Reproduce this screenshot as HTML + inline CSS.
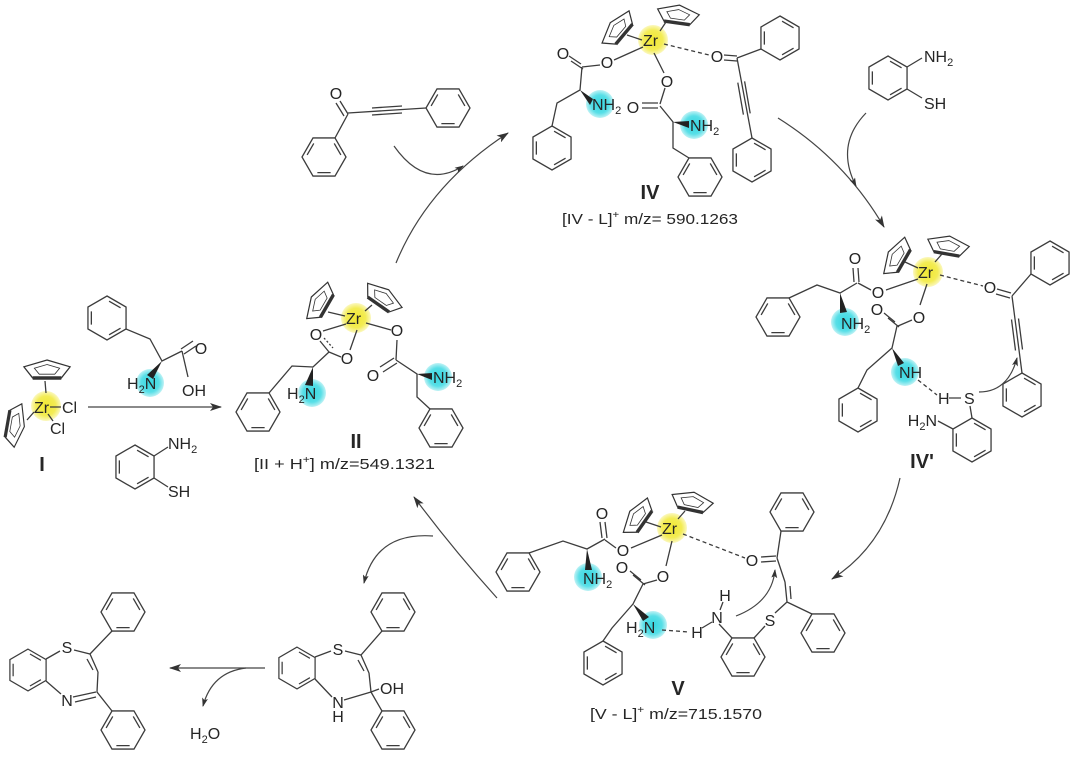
<!DOCTYPE html>
<html><head><meta charset="utf-8"><style>
html,body{margin:0;padding:0;background:#fff;}
svg{display:block}
text{font-family:"Liberation Sans",Arial,sans-serif;fill:#262626}
</style></head><body>
<svg width="1080" height="759" viewBox="0 0 1080 759" xmlns="http://www.w3.org/2000/svg">
<defs>
<radialGradient id="yg"><stop offset="0" stop-color="#f1e832"/><stop offset="0.65" stop-color="#f3ec55"/><stop offset="1" stop-color="#fbf8c0"/></radialGradient>
<radialGradient id="cg"><stop offset="0" stop-color="#35d6e0"/><stop offset="0.65" stop-color="#58dfe7"/><stop offset="1" stop-color="#bff2f5"/></radialGradient>
<g id="bz" fill="none" stroke="#3c3c3c" stroke-width="1.3">
<polygon points="0,-22 19.05,-11 19.05,11 0,22 -19.05,11 -19.05,-11"/>
<path d="M2.07,-16.87L13.58,-10.23M13.58,10.23L2.07,16.87M-15.65,6.64L-15.65,-6.64"/>
</g>
<g id="cp" fill="none" stroke="#333" stroke-width="1.2">
<polygon points="0,-10 21,-3.2 13,8 -13,8 -21,-3.2"/>
<line x1="-13" y1="8" x2="13" y2="8" stroke-width="3.4"/>
<polygon points="0,-5.5 11.5,-1.8 7,4.2 -7,4.2 -11.5,-1.8" stroke-width="0.8"/>
</g>
<marker id="ah" viewBox="0 0 12 8" refX="11" refY="4" markerWidth="12" markerHeight="8" orient="auto" markerUnits="userSpaceOnUse"><path d="M0,0L12,4L0,8L3,4z" fill="#333"/></marker>
<marker id="as" viewBox="0 0 9 6" refX="8" refY="3" markerWidth="9" markerHeight="6" orient="auto" markerUnits="userSpaceOnUse"><path d="M0,0L9,3L0,6L2,3z" fill="#333"/></marker>
</defs>

<!-- highlight circles -->
<g>
<circle cx="46" cy="406" r="15" fill="url(#yg)"/>
<circle cx="356" cy="318" r="15" fill="url(#yg)"/>
<circle cx="653" cy="40" r="15" fill="url(#yg)"/>
<circle cx="928" cy="272" r="15" fill="url(#yg)"/>
<circle cx="672" cy="528" r="15" fill="url(#yg)"/>
<circle cx="150" cy="383" r="14" fill="url(#cg)"/>
<circle cx="312" cy="393" r="14" fill="url(#cg)"/>
<circle cx="438" cy="377" r="14" fill="url(#cg)"/>
<circle cx="600" cy="104" r="14" fill="url(#cg)"/>
<circle cx="694" cy="125" r="14" fill="url(#cg)"/>
<circle cx="845" cy="322" r="14" fill="url(#cg)"/>
<circle cx="905" cy="372" r="14" fill="url(#cg)"/>
<circle cx="588" cy="577" r="14" fill="url(#cg)"/>
<circle cx="653" cy="625" r="14" fill="url(#cg)"/>
</g>

<!-- benzene rings -->
<use href="#bz" transform="translate(107,318)"/>
<use href="#bz" transform="translate(135,467)"/>
<use href="#bz" transform="translate(258,412) rotate(30)"/>
<use href="#bz" transform="translate(441,428) rotate(30)"/>
<use href="#bz" transform="translate(324,157) rotate(30)"/>
<use href="#bz" transform="translate(448,108) rotate(30)"/>
<use href="#bz" transform="translate(552,148)"/>
<use href="#bz" transform="translate(700,177) rotate(30)"/>
<use href="#bz" transform="translate(780,38)"/>
<use href="#bz" transform="translate(752,160)"/>
<use href="#bz" transform="translate(888,78)"/>
<use href="#bz" transform="translate(778,317) rotate(30)"/>
<use href="#bz" transform="translate(858,410)"/>
<use href="#bz" transform="translate(1050,263)"/>
<use href="#bz" transform="translate(1022,395)"/>
<use href="#bz" transform="translate(972,440)"/>
<use href="#bz" transform="translate(518,572) rotate(30)"/>
<use href="#bz" transform="translate(603,663)"/>
<use href="#bz" transform="translate(743,657) rotate(30)"/>
<use href="#bz" transform="translate(792,512) rotate(30)"/>
<use href="#bz" transform="translate(823,633) rotate(30)"/>
<use href="#bz" transform="translate(297,668) scale(0.95)"/>
<use href="#bz" transform="translate(393,612) rotate(30)"/>
<use href="#bz" transform="translate(393,730) rotate(30)"/>
<use href="#bz" transform="translate(28,670) scale(0.95)"/>
<use href="#bz" transform="translate(123,612) rotate(30)"/>
<use href="#bz" transform="translate(123,730) rotate(30)"/>

<!-- Cp rings -->
<use href="#cp" transform="translate(47,370) scale(1.1,1)"/>
<use href="#cp" transform="translate(15,425) rotate(100) scale(1.05,0.95)"/>
<use href="#cp" transform="translate(320,302) rotate(-60)"/>
<use href="#cp" transform="translate(383,298) rotate(35)"/>
<use href="#cp" transform="translate(618,29) rotate(-50)"/>
<use href="#cp" transform="translate(678,15) rotate(8)"/>
<use href="#cp" transform="translate(897,257) rotate(-60)"/>
<use href="#cp" transform="translate(948,246) rotate(10)"/>
<use href="#cp" transform="translate(638,517) rotate(-55)"/>
<use href="#cp" transform="translate(692,502) rotate(12)"/>

<!-- bonds -->
<g fill="none" stroke="#3c3c3c" stroke-width="1.3">
<!-- I -->
<path d="M45,381L46,393M27,420L34,412M50,407L61,407M48,414L53,421"/>
<!-- Phe reagent -->
<path d="M126,329L150,339L162,361L182,351M181,349L193,341M184,354L196,346M182,351L188,377"/>
<!-- ATP reagent -->
<path d="M154,456L168,447M154,478L168,487"/>
<!-- II -->
<path d="M328,312L345,316M372,305L365,311M346,324L323,331M366,323L391,330M357,330L350,350M320,341L329,352M329,352L341,357M329,352L313,367L292,366L269,393"/>
<path d="M324,338L333,348" stroke-dasharray="2,2"/>
<path d="M397,340L396,360M394,358L380,367M397,363L383,372M396,360L417,374L417,397L430,409"/>
<!-- ynone -->
<path d="M335,138L348,114M348,114L340,101M344,116L336,103M348,113L426,108M372,108L402,106M372,115L402,113"/>
<!-- IV -->
<path d="M627,35L642,40M666,22L660,31M643,47L614,60M600,65L582,67M581,64L569,56M583,69L571,61M582,67L580,90L557,103L552,126"/>
<path d="M654,53L664,73M665,88L660,104M658,103L642,103M658,108L642,108M660,106L673,122L673,148L689,158"/>
<path d="M664,44L709,55" stroke-dasharray="4,3"/>
<path d="M724,55L737,56M724,60L737,61M737,58L761,49M737,58L752,138M744.6,81.4L750.2,113.4M737.8,82.6L743.4,114.6"/>
<!-- ATP top right -->
<path d="M907,67L922,58M907,89L922,98"/>
<!-- IV' -->
<path d="M905,262L918,268M942,254L935,262M918,279L886,290M871,290L858,283M854,282L853,268M859,282L858,268M857,283L840,293L817,285L789,298"/>
<path d="M927,284L920,305M912,320L898,326M895,322L884,313M899,327L888,318M897,326L892,348L867,370L858,388"/>
<path d="M940,275L983,286M918,380L937,395" stroke-dasharray="4,3"/>
<path d="M949,398L961,398M970,406L972,418M953,429L938,421"/>
<path d="M997,289L1011,293M996,294L1010,298M1012,296L1031,274M1012,296L1022,373M1018.5,318.5L1022.5,349.5M1011.5,319.5L1015.5,350.5"/>
<!-- V -->
<path d="M646,522L661,527M685,511L678,519M662,535L631,548M616,548L605,540M602,538L600,522M607,538L605,522M605,539L587,549L563,541L529,553"/>
<path d="M672,541L666,566M657,580L643,584M641,580L630,571M645,585L633,575M643,584L633,604M633,604L612,628L603,641"/>
<path d="M683,534L745,558M662,630L689,632" stroke-dasharray="4,3"/>
<path d="M702,628L712,622M720,610L723,602M719,624L732,638M754,638L765,626M775,613L787,602M787,602L785,582M791,599L790,586M785,582L777,558M776,556L761,557M776,561L761,562M777,558L781,531M787,602L812,614"/>
<!-- bottom right molecule -->
<path d="M315,657L331,651M345,651L361,655L382,631M361,655L369,673M358,660L364,671M369,673L371,692L382,711M315,679L332,697M344,700L371,692M371,692L379,689"/>
<!-- bottom left molecule -->
<path d="M46,659L60,651M74,650L90,654L112,631M90,654L98,672M87,659L93,670M98,672L97,692L112,711M46,681L61,694M73,697L96,692M75,702L96,697"/>
</g>

<!-- wedges -->
<g fill="#222">
<polygon points="162,361 147,375 153,379"/>
<polygon points="313,367 305,385 313,386"/>
<polygon points="417,374 432,373 432,380"/>
<polygon points="580,90 593,99 590,105"/>
<polygon points="673,122 689,121 689,128"/>
<polygon points="840,293 840,313 847,312"/>
<polygon points="892,348 898,366 904,363"/>
<polygon points="587,549 585,570 592,570"/>
<polygon points="633,604 643,621 649,617"/>
</g>

<!-- arrows -->
<g fill="none" stroke="#444" stroke-width="1.2">
<line x1="88" y1="407" x2="221" y2="407" marker-end="url(#ah)"/>
<path d="M396,263 Q428,185 508,133" marker-end="url(#ah)"/>
<path d="M394,146 Q425,190 463,166" marker-end="url(#as)"/>
<path d="M778,118 Q845,160 884,227" marker-end="url(#ah)"/>
<path d="M866,113 Q835,145 856,186" marker-end="url(#as)"/>
<path d="M979,392 Q1008,392 1017,358" marker-end="url(#as)"/>
<path d="M900,478 Q885,545 832,579" marker-end="url(#ah)"/>
<path d="M736,616 Q772,602 775,570" marker-end="url(#as)"/>
<path d="M497,598 Q452,548 414,497" marker-end="url(#ah)"/>
<path d="M433,536 Q376,532 364,583" marker-end="url(#as)"/>
<line x1="265" y1="668" x2="170" y2="668" marker-end="url(#ah)"/>
<path d="M246,668 Q212,672 203,706" marker-end="url(#as)"/>
</g>

<!-- atom labels -->
<g font-size="16">
<text x="34" y="413">Zr</text>
<text x="62" y="413">Cl</text>
<text x="50" y="434">Cl</text>
<text x="201" y="354" text-anchor="middle">O</text>
<text x="182" y="396">OH</text>
<text x="127" y="389">H<tspan font-size="11" dy="4">2</tspan><tspan dy="-4">N</tspan></text>
<text x="168" y="449">NH<tspan font-size="11" dy="4">2</tspan></text>
<text x="168" y="497">SH</text>
<text x="346" y="324">Zr</text>
<text x="316" y="340" text-anchor="middle">O</text>
<text x="397" y="336" text-anchor="middle">O</text>
<text x="347" y="364" text-anchor="middle">O</text>
<text x="373" y="381" text-anchor="middle">O</text>
<text x="287" y="399">H<tspan font-size="11" dy="4">2</tspan><tspan dy="-4">N</tspan></text>
<text x="433" y="383">NH<tspan font-size="11" dy="4">2</tspan></text>
<text x="336" y="99" text-anchor="middle">O</text>
<text x="643" y="46">Zr</text>
<text x="607" y="68" text-anchor="middle">O</text>
<text x="563" y="59" text-anchor="middle">O</text>
<text x="592" y="110">NH<tspan font-size="11" dy="4">2</tspan></text>
<text x="667" y="87" text-anchor="middle">O</text>
<text x="633" y="113" text-anchor="middle">O</text>
<text x="690" y="131">NH<tspan font-size="11" dy="4">2</tspan></text>
<text x="717" y="62" text-anchor="middle">O</text>
<text x="924" y="62">NH<tspan font-size="11" dy="4">2</tspan></text>
<text x="924" y="109">SH</text>
<text x="918" y="278">Zr</text>
<text x="878" y="298" text-anchor="middle">O</text>
<text x="855" y="264" text-anchor="middle">O</text>
<text x="841" y="329">NH<tspan font-size="11" dy="4">2</tspan></text>
<text x="919" y="323" text-anchor="middle">O</text>
<text x="877" y="315" text-anchor="middle">O</text>
<text x="899" y="378">NH</text>
<text x="938" y="404">H</text>
<text x="964" y="404">S</text>
<text x="937" y="426" text-anchor="end">H<tspan font-size="11" dy="4">2</tspan><tspan dy="-4">N</tspan></text>
<text x="990" y="293" text-anchor="middle">O</text>
<text x="662" y="534">Zr</text>
<text x="623" y="556" text-anchor="middle">O</text>
<text x="602" y="519" text-anchor="middle">O</text>
<text x="583" y="584">NH<tspan font-size="11" dy="4">2</tspan></text>
<text x="663" y="582" text-anchor="middle">O</text>
<text x="622" y="573" text-anchor="middle">O</text>
<text x="626" y="633">H<tspan font-size="11" dy="4">2</tspan><tspan dy="-4">N</tspan></text>
<text x="697" y="638" text-anchor="middle">H</text>
<text x="717" y="623" text-anchor="middle">N</text>
<text x="725" y="601" text-anchor="middle">H</text>
<text x="770" y="626" text-anchor="middle">S</text>
<text x="752" y="566" text-anchor="middle">O</text>
<text x="338" y="655" text-anchor="middle">S</text>
<text x="338" y="708" text-anchor="middle">N</text>
<text x="338" y="722" text-anchor="middle">H</text>
<text x="380" y="694">OH</text>
<text x="67" y="653" text-anchor="middle">S</text>
<text x="67" y="706" text-anchor="middle">N</text>
<text x="190" y="739">H<tspan font-size="11" dy="4">2</tspan><tspan dy="-4">O</tspan></text>
</g>

<!-- compound numbers -->
<g font-size="20" font-weight="bold" text-anchor="middle">
<text x="42" y="471">I</text>
<text x="356" y="448">II</text>
<text x="650" y="199">IV</text>
<text x="922" y="468">IV'</text>
<text x="678" y="695">V</text>
</g>

<!-- m/z labels -->
<g font-size="15">
<text x="254" y="469" textLength="181" lengthAdjust="spacingAndGlyphs">[II + H<tspan font-size="10" dy="-6">+</tspan><tspan dy="6">] m/z=549.1321</tspan></text>
<text x="562" y="224" textLength="176" lengthAdjust="spacingAndGlyphs">[IV - L]<tspan font-size="10" dy="-6">+</tspan><tspan dy="6">  m/z= 590.1263</tspan></text>
<text x="590" y="719" textLength="172" lengthAdjust="spacingAndGlyphs">[V - L]<tspan font-size="10" dy="-6">+</tspan><tspan dy="6"> m/z=715.1570</tspan></text>
</g>
</svg>
</body></html>
